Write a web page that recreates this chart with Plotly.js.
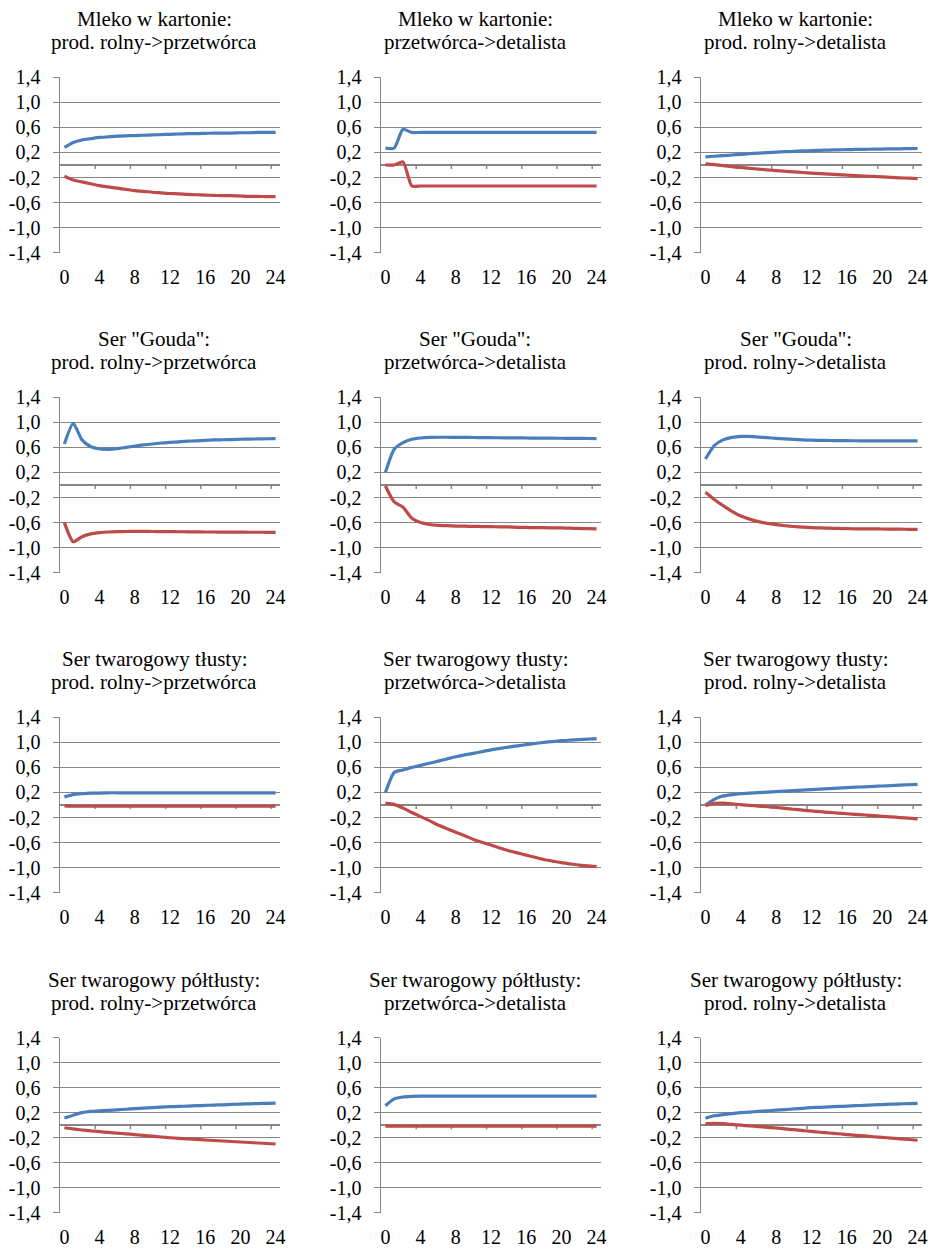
<!DOCTYPE html>
<html>
<head>
<meta charset="utf-8">
<script src="https://cdn.plot.ly/plotly-3.0.1.min.js"></script>
<style>html,body{margin:0;padding:0;background:#fff;}#chart{width:933px;height:1251px;}</style>
</head>
<body>
<div id="chart"></div>
<script>
// ---- data ----
const periods = Array.from({length: 25}, (_, i) => i);
const xTickVals = [0, 4, 8, 12, 16, 20, 24];
const xTickText = ['0', '4', '8', '12', '16', '20', '24'];
const zeroAxisTicks = [3.5, 7.5, 11.5, 15.5, 19.5, 23.5];
const yTickVals = [1.4, 1.0, 0.6, 0.2, -0.2, -0.6, -1.0, -1.4];
const yTickText = ['1,4', '1,0', '0,6', '0,2', '-0,2', '-0,6', '-1,0', '-1,4'];

const productTitles = ['Mleko w kartonie:', 'Ser "Gouda":', 'Ser twarogowy tłusty:', 'Ser twarogowy półtłusty:'];
const chainTitles = ['prod. rolny->przetwórca', 'przetwórca->detalista', 'prod. rolny->detalista'];

// Mleko w kartonie
const mleko_pp_blue = [0.28,0.36,0.40,0.42,0.44,0.45,0.46,0.465,0.47,0.475,0.48,0.485,0.49,0.495,0.50,0.50,0.505,0.51,0.51,0.51,0.515,0.515,0.52,0.52,0.52];
const mleko_pp_red  = [-0.18,-0.24,-0.27,-0.30,-0.33,-0.35,-0.37,-0.39,-0.41,-0.42,-0.435,-0.445,-0.455,-0.46,-0.47,-0.475,-0.48,-0.485,-0.49,-0.49,-0.495,-0.50,-0.50,-0.505,-0.505];
const mleko_pd_blue = [0.27,0.27,0.57,0.52,0.52,0.52,0.52,0.52,0.52,0.52,0.52,0.52,0.52,0.52,0.52,0.52,0.52,0.52,0.52,0.52,0.52,0.52,0.52,0.52,0.52];
const mleko_pd_red  = [0.0,0.0,0.05,-0.335,-0.335,-0.335,-0.335,-0.335,-0.335,-0.335,-0.335,-0.335,-0.335,-0.335,-0.335,-0.335,-0.335,-0.335,-0.335,-0.335,-0.335,-0.335,-0.335,-0.335,-0.335];
const mleko_rd_blue = [0.13,0.14,0.15,0.16,0.17,0.18,0.19,0.198,0.205,0.212,0.218,0.224,0.23,0.234,0.238,0.242,0.245,0.248,0.25,0.253,0.255,0.257,0.259,0.261,0.263];
const mleko_rd_red  = [0.02,0.005,-0.01,-0.025,-0.04,-0.054,-0.066,-0.078,-0.09,-0.10,-0.11,-0.12,-0.13,-0.138,-0.146,-0.154,-0.162,-0.169,-0.176,-0.183,-0.19,-0.197,-0.204,-0.211,-0.218];
// Ser Gouda
const gouda_pp_blue = [0.655,0.985,0.72,0.61,0.575,0.57,0.58,0.60,0.62,0.64,0.655,0.67,0.68,0.69,0.70,0.705,0.713,0.72,0.722,0.725,0.73,0.733,0.735,0.738,0.74];
const gouda_pp_red  = [-0.60,-0.905,-0.825,-0.78,-0.76,-0.75,-0.745,-0.742,-0.74,-0.74,-0.742,-0.744,-0.745,-0.746,-0.747,-0.748,-0.75,-0.75,-0.752,-0.752,-0.753,-0.754,-0.754,-0.755,-0.755];
const gouda_pd_blue = [0.20,0.57,0.675,0.73,0.75,0.76,0.762,0.762,0.76,0.76,0.758,0.757,0.755,0.754,0.753,0.752,0.75,0.749,0.748,0.747,0.746,0.745,0.744,0.742,0.74];
const gouda_pd_red  = [-0.015,-0.27,-0.355,-0.53,-0.60,-0.63,-0.645,-0.65,-0.655,-0.658,-0.66,-0.663,-0.665,-0.668,-0.67,-0.675,-0.678,-0.68,-0.682,-0.684,-0.686,-0.69,-0.693,-0.697,-0.70];
const gouda_rd_blue = [0.415,0.63,0.72,0.76,0.777,0.775,0.765,0.755,0.745,0.735,0.727,0.72,0.715,0.712,0.71,0.708,0.707,0.706,0.705,0.704,0.703,0.703,0.703,0.703,0.703];
const gouda_rd_red  = [-0.117,-0.23,-0.33,-0.42,-0.495,-0.545,-0.585,-0.612,-0.633,-0.65,-0.663,-0.672,-0.68,-0.686,-0.69,-0.694,-0.697,-0.699,-0.70,-0.701,-0.702,-0.704,-0.705,-0.707,-0.708];
// Ser twarogowy tłusty
const tlusty_pp_blue = [0.13,0.165,0.18,0.19,0.19,0.195,0.195,0.195,0.195,0.195,0.195,0.195,0.195,0.195,0.195,0.195,0.195,0.195,0.195,0.195,0.195,0.195,0.195,0.195,0.195];
const tlusty_pp_red  = [-0.015,-0.02,-0.02,-0.02,-0.02,-0.02,-0.02,-0.02,-0.02,-0.02,-0.02,-0.02,-0.02,-0.02,-0.02,-0.02,-0.02,-0.02,-0.02,-0.02,-0.02,-0.02,-0.02,-0.02,-0.02];
const tlusty_pd_blue = [0.197,0.52,0.56,0.60,0.633,0.667,0.70,0.735,0.77,0.80,0.825,0.853,0.88,0.903,0.925,0.945,0.963,0.982,1.0,1.013,1.027,1.035,1.043,1.052,1.06];
const tlusty_pd_red  = [0.03,0.01,-0.05,-0.12,-0.185,-0.25,-0.32,-0.378,-0.435,-0.49,-0.55,-0.595,-0.64,-0.685,-0.73,-0.765,-0.80,-0.835,-0.87,-0.895,-0.92,-0.94,-0.96,-0.972,-0.985];
const tlusty_rd_blue = [0.0,0.09,0.145,0.165,0.18,0.19,0.197,0.205,0.213,0.22,0.23,0.237,0.245,0.253,0.26,0.268,0.277,0.284,0.29,0.297,0.303,0.31,0.317,0.323,0.33];
const tlusty_rd_red  = [-0.01,0.027,0.03,0.02,0.005,-0.005,-0.017,-0.028,-0.04,-0.054,-0.068,-0.082,-0.095,-0.107,-0.118,-0.13,-0.14,-0.15,-0.16,-0.17,-0.18,-0.19,-0.20,-0.21,-0.22];
// Ser twarogowy półtłusty
const poltlusty_pp_blue = [0.115,0.16,0.20,0.22,0.23,0.238,0.246,0.255,0.263,0.271,0.279,0.287,0.295,0.30,0.305,0.311,0.316,0.321,0.326,0.332,0.337,0.341,0.345,0.349,0.353];
const poltlusty_pp_red  = [-0.04,-0.06,-0.077,-0.09,-0.104,-0.115,-0.127,-0.138,-0.15,-0.163,-0.175,-0.188,-0.20,-0.209,-0.218,-0.227,-0.236,-0.244,-0.252,-0.26,-0.268,-0.276,-0.284,-0.292,-0.30];
const poltlusty_pd_blue = [0.31,0.42,0.45,0.46,0.465,0.465,0.465,0.465,0.465,0.465,0.465,0.465,0.465,0.465,0.465,0.465,0.465,0.465,0.465,0.465,0.465,0.465,0.465,0.465,0.465];
const poltlusty_pd_red  = [-0.015,-0.015,-0.015,-0.015,-0.015,-0.015,-0.015,-0.015,-0.015,-0.015,-0.015,-0.015,-0.015,-0.015,-0.015,-0.015,-0.015,-0.015,-0.015,-0.015,-0.015,-0.015,-0.015,-0.015,-0.015];
const poltlusty_rd_blue = [0.11,0.15,0.17,0.185,0.20,0.21,0.22,0.23,0.24,0.25,0.26,0.27,0.28,0.286,0.293,0.299,0.305,0.311,0.318,0.324,0.33,0.335,0.34,0.345,0.35];
const poltlusty_rd_red  = [0.024,0.03,0.024,0.012,0.0,-0.011,-0.022,-0.034,-0.045,-0.059,-0.072,-0.086,-0.10,-0.112,-0.125,-0.137,-0.15,-0.161,-0.172,-0.184,-0.195,-0.206,-0.217,-0.228,-0.24];

const panelSeries = [
  [mleko_pp_blue, mleko_pp_red], [mleko_pd_blue, mleko_pd_red], [mleko_rd_blue, mleko_rd_red],
  [gouda_pp_blue, gouda_pp_red], [gouda_pd_blue, gouda_pd_red], [gouda_rd_blue, gouda_rd_red],
  [tlusty_pp_blue, tlusty_pp_red], [tlusty_pd_blue, tlusty_pd_red], [tlusty_rd_blue, tlusty_rd_red],
  [poltlusty_pp_blue, poltlusty_pp_red], [poltlusty_pd_blue, poltlusty_pd_red], [poltlusty_rd_blue, poltlusty_rd_red]
];

// ---- layout geometry (pixels) ----
const W = 933, H = 1251;
const colLeft = [60, 381, 701];
const colRight = [280, 601, 922];
const rowTop = [77.3, 397.3, 717.3, 1037.5];
const plotH = 175.4;
const BLUE = '#4a7ebb', RED = '#be4b48', GRAY = '#868686';
const FONT = 'Liberation Serif';
const textFont = {family: FONT, size: 20, color: '#000'};
const titleFont = {family: FONT, size: 21, color: '#000'};

const traces = [];
const layout = {
  width: W, height: H,
  margin: {l: 0, r: 0, t: 0, b: 0},
  paper_bgcolor: '#ffffff', plot_bgcolor: 'rgba(0,0,0,0)',
  showlegend: false,
  font: textFont,
  annotations: [], shapes: []
};

for (let r = 0; r < 4; r++) {
  for (let c = 0; c < 3; c++) {
    const k = r * 3 + c + 1;
    const xn = k === 1 ? 'x' : 'x' + k;
    const yn = k === 1 ? 'y' : 'y' + k;
    const xk = k === 1 ? 'xaxis' : 'xaxis' + k;
    const yk = k === 1 ? 'yaxis' : 'yaxis' + k;
    const [blue, red] = panelSeries[k - 1];
    traces.push({x: periods, y: blue, xaxis: xn, yaxis: yn, type: 'scatter', mode: 'lines',
      line: {color: BLUE, width: 3.2, shape: 'spline', smoothing: 0.6}, hoverinfo: 'skip'});
    traces.push({x: periods, y: red, xaxis: xn, yaxis: yn, type: 'scatter', mode: 'lines',
      line: {color: RED, width: 3.2, shape: 'spline', smoothing: 0.6}, hoverinfo: 'skip'});
    const top = rowTop[r], bot = rowTop[r] + plotH;
    layout[xk] = {
      domain: [colLeft[c] / W, colRight[c] / W], anchor: yn,
      range: [-0.5, 24.5], tickmode: 'array', tickvals: xTickVals, ticktext: xTickText,
      ticks: '', showline: false, showgrid: false, zeroline: false,
      ticklabelstandoff: 10,
      tickfont: textFont, fixedrange: true
    };
    layout[yk] = {
      domain: [1 - bot / H, 1 - top / H], anchor: xn,
      range: [-1.4, 1.4], tickmode: 'array', tickvals: yTickVals, ticktext: yTickText,
      ticks: 'outside', ticklen: 6, tickwidth: 1, tickcolor: GRAY,
      showline: true, linecolor: GRAY, linewidth: 1.5,
      showgrid: true, gridcolor: GRAY, gridwidth: 1,
      zeroline: true, zerolinecolor: GRAY, zerolinewidth: 1.5,
      ticklabelstandoff: 8,
      tickfont: textFont, fixedrange: true
    };
    zeroAxisTicks.forEach(t => {
      layout.shapes.push({type: 'line', xref: xn, yref: yn, x0: t, x1: t, y0: 0, y1: -0.065,
        line: {color: GRAY, width: 1.5}, layer: 'below'});
    });
    const cx = ((colLeft[c] + colRight[c]) / 2 - 16) / W;
    layout.annotations.push({xref: 'paper', yref: 'paper', x: cx, y: 1 - (top - 58) / H,
      xanchor: 'center', yanchor: 'middle', showarrow: false, text: productTitles[r],
      font: titleFont});
    layout.annotations.push({xref: 'paper', yref: 'paper', x: cx, y: 1 - (top - 35) / H,
      xanchor: 'center', yanchor: 'middle', showarrow: false, text: chainTitles[c],
      font: titleFont});
  }
}

Plotly.newPlot('chart', traces, layout, {staticPlot: true, displayModeBar: false});
</script>
</body>
</html>
